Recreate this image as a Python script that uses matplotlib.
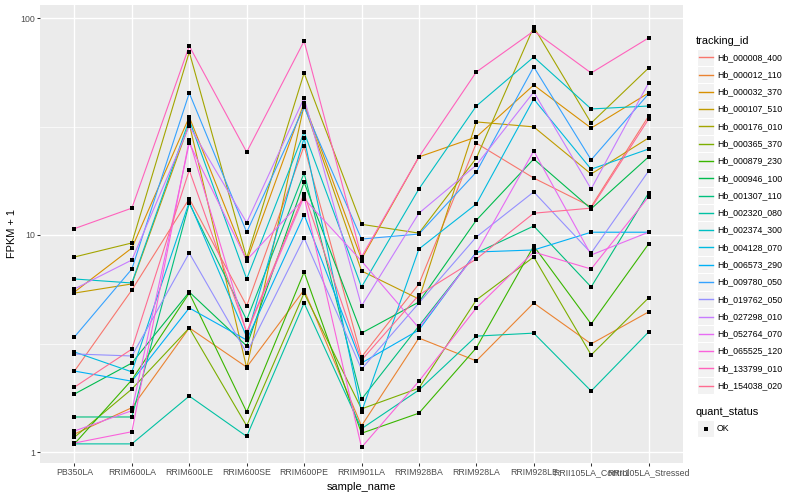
import matplotlib
matplotlib.use("Agg")
import matplotlib.pyplot as plt
from matplotlib.patches import Rectangle
from matplotlib.lines import Line2D
from matplotlib.ticker import FixedLocator, NullFormatter
import numpy as np

plt.rcParams['font.family'] = ['Liberation Sans', 'DejaVu Sans']

samples = ["PB350LA", "RRIM600LA", "RRIM600LE", "RRIM600SE", "RRIM600PE",
           "RRIM901LA", "RRIM928BA", "RRIM928LA", "RRIM928LE",
           "RRII105LA_Control", "RRII105LA_Stressed"]

tracking_ids = ["Hb_000008_400", "Hb_000012_110", "Hb_000032_370", "Hb_000107_510",
                "Hb_000176_010", "Hb_000365_370", "Hb_000879_230", "Hb_000946_100",
                "Hb_001307_110", "Hb_002320_080", "Hb_002374_300", "Hb_004128_070",
                "Hb_006573_290", "Hb_009780_050", "Hb_019762_050", "Hb_027298_010",
                "Hb_052764_070", "Hb_065525_120", "Hb_133799_010", "Hb_154038_020"]

# FPKM + 1 per sample (order of `samples`)
hb_000008_400 = [2.36, 5.58, 14.7, 4.71, 25.7, 2.74, 5.95, 26.5, 18.3, 13.5, 35.3]
hb_000012_110 = [1.21, 1.60, 3.73, 2.46, 5.58, 1.32, 3.35, 2.63, 4.86, 3.15, 4.42]
hb_000032_370 = [5.46, 8.71, 35.0, 7.59, 40.6, 7.75, 22.9, 28.3, 49.1, 31.1, 45.1]
hb_000107_510 = [5.40, 5.95, 32.5, 2.44, 39.7, 6.83, 5.07, 33.2, 31.5, 19.1, 28.0]
hb_000176_010 = [7.92, 9.19, 69.7, 7.83, 55.8, 11.2, 10.2, 22.6, 90.9, 32.8, 58.8]
hb_000365_370 = [1.17, 1.95, 3.73, 1.32, 5.40, 1.58, 1.97, 5.02, 7.92, 2.80, 5.13]
hb_000879_230 = [1.09, 2.15, 5.40, 1.53, 6.75, 1.22, 1.51, 3.02, 8.90, 3.89, 9.09]
hb_000946_100 = [1.85, 2.57, 5.46, 3.08, 17.5, 3.53, 4.91, 11.7, 22.4, 13.2, 22.9]
hb_001307_110 = [1.45, 1.45, 14.0, 4.06, 19.3, 1.75, 3.81, 8.26, 11.0, 5.76, 15.6]
hb_002320_080 = [1.09, 1.09, 1.81, 1.18, 4.86, 1.28, 1.93, 3.42, 3.53, 1.91, 3.57]
hb_002374_300 = [6.27, 6.01, 33.9, 6.27, 29.8, 5.76, 16.3, 39.3, 66.1, 38.1, 39.3]
hb_004128_070 = [2.89, 2.34, 14.2, 3.39, 28.0, 1.53, 8.62, 13.9, 42.3, 20.1, 24.9]
hb_006573_290 = [2.36, 2.12, 4.61, 3.28, 12.4, 2.57, 3.65, 8.35, 8.53, 10.3, 10.3]
hb_009780_050 = [3.39, 6.97, 45.1, 10.3, 38.9, 9.58, 10.1, 19.5, 59.5, 22.2, 44.7]
hb_019762_050 = [2.83, 2.77, 8.26, 2.86, 9.69, 2.41, 4.86, 9.79, 15.8, 8.26, 19.7]
hb_027298_010 = [5.64, 7.67, 31.8, 11.4, 42.8, 4.71, 12.6, 21.0, 45.6, 16.3, 50.2]
hb_052764_070 = [1.25, 1.55, 26.5, 7.67, 14.7, 7.59, 3.73, 8.26, 24.4, 8.09, 10.3]
hb_065525_120 = [1.10, 1.24, 27.4, 3.53, 15.0, 1.05, 2.12, 4.61, 8.35, 6.97, 15.0]
hb_133799_010 = [10.7, 13.3, 74.3, 24.1, 78.3, 7.92, 22.9, 56.4, 87.1, 55.8, 80.9]
hb_154038_020 = [1.99, 2.98, 19.9, 3.57, 15.5, 2.65, 5.29, 7.75, 12.6, 13.3, 34.2]

fpkm_series = [hb_000008_400, hb_000012_110, hb_000032_370, hb_000107_510,
               hb_000176_010, hb_000365_370, hb_000879_230, hb_000946_100,
               hb_001307_110, hb_002320_080, hb_002374_300, hb_004128_070,
               hb_006573_290, hb_009780_050, hb_019762_050, hb_027298_010,
               hb_052764_070, hb_065525_120, hb_133799_010, hb_154038_020]

colors = ["#F8766D", "#EA8331", "#D89000", "#C09B00", "#A3A500", "#7CAE00",
          "#39B600", "#00BB4E", "#00BF7D", "#00C1A3", "#00BFC4", "#00BAE0",
          "#00B0F6", "#35A2FF", "#9590FF", "#C77CFF", "#E76BF3", "#FA62DB",
          "#FF62BC", "#FF6C91"]

quant_levels = ["OK"]

W, H = 800, 500
fig = plt.figure(figsize=(W / 100, H / 100), dpi=100)


def fx(px):
    return px / W


def fy(py):
    return 1 - py / H


P_L, P_R, P_T, P_B = 40, 683, 5, 463
ax = fig.add_axes([fx(P_L), fy(P_B), (P_R - P_L) / W, (P_B - P_T) / H])
ax.set_facecolor("#EBEBEB")

x = np.arange(1, len(samples) + 1)
for vals, c in zip(fpkm_series, colors):
    ax.plot(x, vals, color=c, lw=0.8, zorder=2)
for vals in fpkm_series:
    ax.plot(x, vals, ls='none', marker='s', ms=2.7, mew=0, color='black', zorder=3)

ax.set_yscale('log')
ax.set_ylim(10 ** (-11 / 217), 10 ** (447 / 217))
ax.set_xlim(0.4, len(samples) + 0.6)
ax.set_yticks([1, 10, 100])
ax.set_yticklabels(['1', '10', '100'])
ax.yaxis.set_minor_locator(FixedLocator([10 ** 0.5, 10 ** 1.5]))
ax.yaxis.set_minor_formatter(NullFormatter())
ax.tick_params(axis='y', which='minor', length=0)
ax.set_xticks(x)
ax.set_xticklabels(samples)
ax.grid(which='major', color='white', lw=1.0)
ax.grid(which='minor', axis='y', color='white', lw=0.5)
ax.set_axisbelow(True)
for s in ax.spines.values():
    s.set_visible(False)
ax.tick_params(which='major', length=2, width=0.75, color='#333333',
               labelsize=6.3, labelcolor='#4D4D4D', pad=1.6)

ax.set_xlabel('sample_name', fontsize=7.9)
ax.set_ylabel('FPKM + 1', fontsize=7.9)
ax.xaxis.set_label_coords(0.5, -(487 - P_B) / (P_B - P_T))
ax.xaxis.label.set_va('center')
ax.yaxis.set_label_coords((12 - P_L) / (P_R - P_L), 0.5)
ax.yaxis.label.set_va('center')

# legend (drawn manually in ggplot style)
KEY = 17.28
kx = 697
fig.text(fx(696), fy(40.5), "tracking_id", fontsize=7.9, va='center', ha='left')
for i, (lab, c) in enumerate(zip(tracking_ids, colors)):
    cy = 57.3 + KEY * i
    fig.add_artist(Rectangle((fx(kx), fy(cy + KEY / 2)), KEY / W, KEY / H,
                             transform=fig.transFigure, facecolor='#F2F2F2',
                             edgecolor='white', lw=0.8, zorder=1))
    fig.add_artist(Line2D([fx(kx + 1.7), fx(kx + KEY - 1.7)], [fy(cy), fy(cy)],
                          transform=fig.transFigure, color=c, lw=1.0, zorder=3))
    fig.text(fx(kx + KEY + 2.5), fy(cy), lab, fontsize=6.3, va='center', ha='left')

fig.text(fx(696), fy(411.7), "quant_status", fontsize=7.9, va='center', ha='left')
for j, lab in enumerate(quant_levels):
    cy = 428.6 + KEY * j
    fig.add_artist(Rectangle((fx(kx), fy(cy + KEY / 2)), KEY / W, KEY / H,
                             transform=fig.transFigure, facecolor='#F2F2F2',
                             edgecolor='white', lw=0.8, zorder=1))
    fig.add_artist(Line2D([fx(kx + KEY / 2)], [fy(cy)], transform=fig.transFigure,
                          marker='s', ms=2.7, mew=0, color='black', ls='none', zorder=3))
    fig.text(fx(kx + KEY + 2.5), fy(cy), lab, fontsize=6.3, va='center', ha='left')

fig.savefig("out.png", dpi=100)
